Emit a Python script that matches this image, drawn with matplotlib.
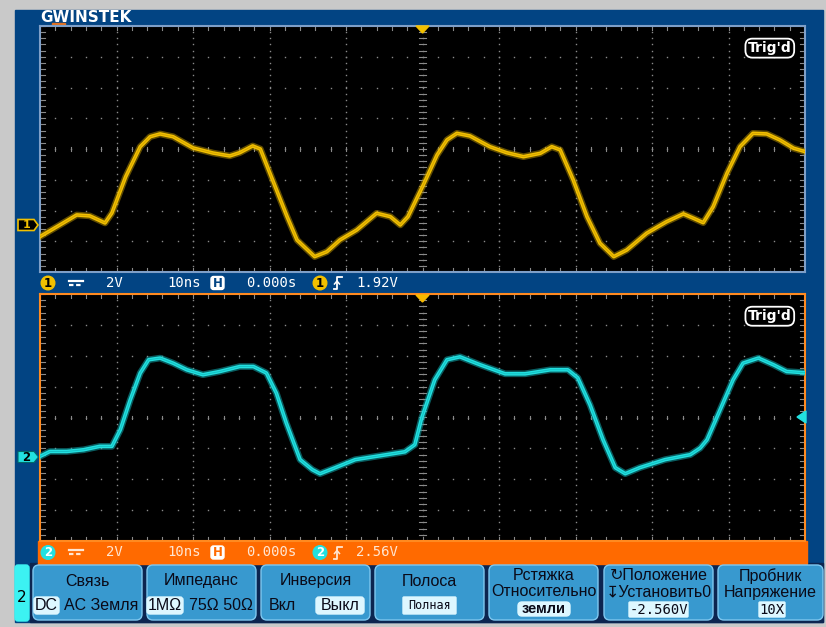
import matplotlib
matplotlib.use("Agg")
import matplotlib.pyplot as plt
from matplotlib.patches import Rectangle, FancyBboxPatch, Circle, Polygon
import numpy as np

# ---------------- data ----------------
ch1_t = [-50.0,-47.4,-45.2,-43.5,-41.5,-40.6,-38.8,-36.9,-35.6,-34.3,-32.6,-30.0,-27.4,-25.2,-23.9,-22.2,-21.2,-19.6,-17.7,-16.4,-14.1,-12.5,-10.8,-8.6,-6.0,-4.2,-2.9,-1.9,0.1,1.9,3.2,4.5,6.2,8.8,11.0,13.2,15.4,16.9,18.0,19.7,21.5,23.2,25.0,26.7,29.3,31.9,34.1,35.4,36.7,38.0,39.8,41.5,43.2,45.0,46.7,48.5,50.0]
ch1_v = [-0.76,0.0,0.65,0.59,0.13,0.78,3.14,5.09,5.74,5.92,5.74,5.01,4.68,4.49,4.70,5.14,4.94,2.93,0.54,-0.98,-2.06,-1.74,-0.98,-0.33,0.76,0.54,0.0,0.54,2.60,4.55,5.53,5.96,5.79,5.09,4.70,4.44,4.66,5.09,4.88,2.93,0.54,-1.19,-2.06,-1.63,-0.54,0.21,0.72,0.44,0.15,1.19,3.36,5.09,5.96,5.92,5.53,4.99,4.77]
ch2_t = [-50.0,-48.7,-46.5,-44.3,-42.2,-40.6,-39.5,-38.2,-36.9,-35.8,-34.3,-32.6,-30.8,-28.7,-26.5,-23.9,-22.1,-20.4,-19.1,-17.8,-16.0,-14.4,-13.4,-11.4,-8.8,-5.6,-2.3,-1.0,-0.1,1.6,3.2,4.9,7.5,10.8,13.4,16.7,19.0,20.3,21.9,23.6,25.2,26.5,28.4,31.7,35.0,36.3,37.2,38.9,40.6,41.9,43.9,45.9,47.6,50.0]
ch2_v = [0.04,0.36,0.36,0.47,0.69,0.69,1.77,3.71,5.44,6.30,6.41,6.08,5.65,5.33,5.54,5.86,5.86,5.44,4.14,2.20,-0.17,-0.82,-1.08,-0.69,-0.17,0.08,0.34,0.80,2.54,5.0,6.30,6.49,5.98,5.39,5.39,5.65,5.65,5.13,3.38,1.12,-0.69,-1.08,-0.69,-0.17,0.15,0.58,1.12,3.06,5.0,6.08,6.41,5.97,5.54,5.46]
volts_per_div = 2.0
ch1_position = -4.94
ch2_position = -2.56

status1 = ["2V", "10ns", "0.000s", "1.92V"]
status2 = ["2V", "10ns", "0.000s", "2.56V"]
menu_titles = ["Связь", "Импеданс", "Инверсия", "Полоса"]

# ---------------- colours ----------------
BG_GRAY = "#C9C9C9"
BLUE = "#024483"
YEL = "#F2C000"
YEL_D = "#B08C00"
CYAN = "#22E0E0"
CYAN_D = "#12A8AE"
ORANGE = "#FF6A00"
BTN = "#3899CF"
HL = "#DDF7FF"
TXT = "#0A0A18"

W, H = 826, 627
fig = plt.figure(figsize=(W/100, H/100), dpi=100)
fig.patch.set_facecolor(BG_GRAY)
base = fig.add_axes([0, 0, 1, 1])
base.set_xlim(0, W); base.set_ylim(H, 0); base.axis("off")
base.set_zorder(0)

# instrument frame
base.add_patch(Rectangle((15, 10), 808, 612, color=BLUE, zorder=1))
# menu background
base.add_patch(Rectangle((30, 563), 793, 59, color="#0C2550", zorder=2))
# orange status bar of ch2
base.add_patch(Rectangle((38, 541), 769, 23, color=ORANGE, zorder=2))

# logo
base.text(40, 17.5, "GWINSTEK", color="white", fontsize=11, fontweight="bold",
          family="DejaVu Sans", va="center", ha="left", zorder=5)
base.add_patch(Rectangle((52, 23), 13, 2, color="#E07020", zorder=6))


def panel(y0, y1, edge):
    ax = fig.add_axes([40/W, 1-y1/H, 765/W, (y1-y0)/H])
    ax.set_facecolor("black")
    ax.set_xlim(-50, 50); ax.set_ylim(-4, 4)
    ax.set_xticks([]); ax.set_yticks([])
    for s in ax.spines.values():
        s.set_color(edge); s.set_linewidth(1.5)
    gc = "#8A8A8A"
    ys = np.arange(-4, 4.01, 0.2)
    xs = np.arange(-50, 50.01, 2)
    for xm in range(-40, 41, 10):
        ax.plot(np.full_like(ys, xm), ys, ls="none", marker="s", ms=1.0, mec="none", mfc=gc)
    for ym in range(-3, 4):
        ax.plot(xs, np.full_like(xs, ym), ls="none", marker="s", ms=1.0, mec="none", mfc=gc)
    for x in xs:
        ax.plot([x, x], [4, 3.88], color=gc, lw=0.8)
        ax.plot([x, x], [-4, -3.88], color=gc, lw=0.8)
        ax.plot([x, x], [-0.06, 0.06], color=gc, lw=0.8)
    for y in ys:
        ax.plot([-50, -49.4], [y, y], color=gc, lw=0.8)
        ax.plot([50, 49.4], [y, y], color=gc, lw=0.8)
        ax.plot([-0.4, 0.4], [y, y], color=gc, lw=0.8)
    ax.set_zorder(3)
    return ax


ax1 = panel(26, 272, "#7E9FC8")
ax2 = panel(294, 541, "#FF8A20")

y1 = (np.array(ch1_v) + ch1_position) / volts_per_div
y2 = (np.array(ch2_v) + ch2_position) / volts_per_div
ax1.plot(ch1_t, y1, color=YEL_D, lw=4.8, alpha=0.55, solid_joinstyle="round", zorder=5)
ax1.plot(ch1_t, y1, color=YEL, lw=2.6, solid_joinstyle="round", zorder=6)
ax1.plot(ch1_t, y1, color="#C89A00", lw=0.6, alpha=0.8, solid_joinstyle="round", zorder=7)
ax2.plot(ch2_t, y2, color=CYAN_D, lw=4.8, alpha=0.55, solid_joinstyle="round", zorder=5)
ax2.plot(ch2_t, y2, color=CYAN, lw=2.6, solid_joinstyle="round", zorder=6)
ax2.plot(ch2_t, y2, color="#10B4B8", lw=0.6, alpha=0.8, solid_joinstyle="round", zorder=7)

# Trig'd labels
for ax in (ax1, ax2):
    ax.text(45.4, 3.28, "Trig'd", color="white", fontsize=10, fontweight="bold",
            ha="center", va="center", family="DejaVu Sans",
            bbox=dict(boxstyle="round,pad=0.18,rounding_size=0.5", fc="black", ec="white", lw=1.3),
            zorder=10)

# overlay axes for markers on top of panels
ov = fig.add_axes([0, 0, 1, 1])
ov.set_xlim(0, W); ov.set_ylim(H, 0); ov.axis("off"); ov.set_zorder(8)
ov.patch.set_alpha(0)

ov.add_patch(Polygon([(416, 26), (429, 26), (422.5, 33)], color=YEL, zorder=9))
ov.add_patch(Polygon([(416, 295), (429, 295), (422.5, 302)], color="#F5B800", zorder=9))
ov.add_patch(Polygon([(806, 411), (806, 423), (797, 417)], color=CYAN, zorder=9))

ov.add_patch(Polygon([(18, 219.5), (34, 219.5), (38, 225), (34, 230.5), (18, 230.5)],
                     fc="black", ec=YEL, lw=1.2, zorder=9))
ov.text(26.5, 225.5, "1", color=YEL, fontsize=8, fontweight="bold", ha="center", va="center", zorder=10)
ov.add_patch(Polygon([(18, 451.5), (34, 451.5), (38.5, 457), (34, 462.5), (18, 462.5)],
                     fc=CYAN, ec="#006a6a", lw=0.8, zorder=9))
ov.text(26.5, 457.5, "2", color="black", fontsize=8.5, fontweight="bold", ha="center", va="center", zorder=10)


def status(yc, circ_fc, circ_txt, txtcol, vals, num):
    ov.add_patch(Circle((48, yc), 6.8, color=circ_fc, zorder=9))
    ov.text(48, yc + 0.5, num, color=circ_txt, fontsize=8.5,
            fontweight="bold", ha="center", va="center", zorder=10)
    ov.plot([69, 83], [yc - 2.5, yc - 2.5], color=txtcol, lw=1.6, zorder=9)
    ov.plot([69, 83], [yc + 1.5, yc + 1.5], color=txtcol, lw=1.6, ls=(0, (2, 1.2)), zorder=9)
    mono = dict(family="DejaVu Sans Mono", fontsize=10, color=txtcol, va="center", ha="center", zorder=10)
    ov.text(114, yc, vals[0], **mono)
    ov.text(184, yc, vals[1], **mono)
    ov.add_patch(FancyBboxPatch((211, yc - 6.5), 13, 13, boxstyle="round,pad=0,rounding_size=2.5",
                                fc="white", ec="white", zorder=9))
    ov.text(217.5, yc + 0.5, "H", color=BLUE if num == "1" else ORANGE, fontsize=8.5,
            fontweight="bold", ha="center", va="center", zorder=10)
    ov.text(271, yc, vals[2], **mono)
    ov.add_patch(Circle((320, yc), 6.8, color=circ_fc, zorder=9))
    ov.text(320, yc + 0.5, num, color=circ_txt, fontsize=8.5,
            fontweight="bold", ha="center", va="center", zorder=10)
    ov.plot([334, 337, 337, 342], [yc + 6, yc + 6, yc - 6, yc - 6], color=txtcol, lw=1.3, zorder=9)
    ov.plot([334.5, 337, 339.5], [yc + 1, yc - 2, yc + 1], color=txtcol, lw=1.1, zorder=9)
    ov.text(377, yc, vals[3], **mono)


status(283, YEL, "black", "white", status1, "1")
status(552.5, CYAN, "white", "#FFE6D2", status2, "2")

ov.add_patch(FancyBboxPatch((15, 565), 14, 56, boxstyle="round,pad=0,rounding_size=3",
                            fc="#3CF2F2", ec="#3CF2F2", zorder=9))
ov.text(22, 598, "2", color="black", fontsize=11, ha="center", va="center", zorder=10)

btn_x = [(33, 142), (147, 256), (261, 370), (375, 484), (489, 598), (604, 713), (718, 823)]
for (xa, xb) in btn_x:
    ov.add_patch(FancyBboxPatch((xa, 565), xb - xa, 55, boxstyle="round,pad=0,rounding_size=6",
                                fc=BTN, ec="#7FC8F0", lw=1.0, zorder=9))

sans = ["Liberation Sans", "DejaVu Sans"]
ft = dict(family=sans, fontsize=11.5, color=TXT, ha="center", va="center", zorder=11)


def hl(xa, xb, ya, yb, r=3):
    ov.add_patch(FancyBboxPatch((xa, ya), xb - xa, yb - ya, boxstyle=f"round,pad=0,rounding_size={r}",
                                fc=HL, ec=HL, zorder=10))


ov.text(87.5, 581, menu_titles[0], **ft)
hl(34, 59, 597, 614)
ov.text(46.5, 605.5, "DC", **ft)
ov.text(101, 605.5, "AC Земля", **ft)

ov.text(201.5, 581, menu_titles[1], **ft)
hl(147, 183, 597, 614)
ov.text(165, 605.5, "1MΩ", **ft)
ov.text(221, 605.5, "75Ω 50Ω", **ft)

ov.text(315.5, 581, menu_titles[2], **ft)
ov.text(282, 605.5, "Вкл", **ft)
hl(316, 364, 597, 614)
ov.text(340, 605.5, "Выкл", **ft)

ov.text(429.5, 581, menu_titles[3], **ft)
hl(403, 456, 597, 614, r=1)
ov.text(429.5, 605.5, "Полная", family="DejaVu Sans Mono", fontsize=8.5, color=TXT,
        ha="center", va="center", zorder=11)

ov.text(543.5, 576, "Рстяжка", **ft)
ov.text(543.5, 592, "Относительно", **ft)
hl(518, 570, 602, 616, r=4)
ov.text(544, 609, "земли", family=sans, fontsize=10.5, fontweight="bold", color=TXT,
        ha="center", va="center", zorder=11)

ov.text(658.5, 576, "↻Положение", **ft)
ov.text(658.5, 592, "↧Установить0", **ft)
hl(629, 688, 602, 617, r=1)
ov.text(658.5, 609.5, "-2.560V", family="DejaVu Sans Mono", fontsize=10, color=TXT,
        ha="center", va="center", zorder=11)

ov.text(770.5, 576, "Пробник", **ft)
ov.text(770.5, 592, "Напряжение", **ft)
hl(759, 785, 602, 617, r=1)
ov.text(772, 609.5, "10X", family="DejaVu Sans Mono", fontsize=10, color=TXT,
        ha="center", va="center", zorder=11)

fig.savefig("out.png", dpi=100, facecolor=fig.get_facecolor())
